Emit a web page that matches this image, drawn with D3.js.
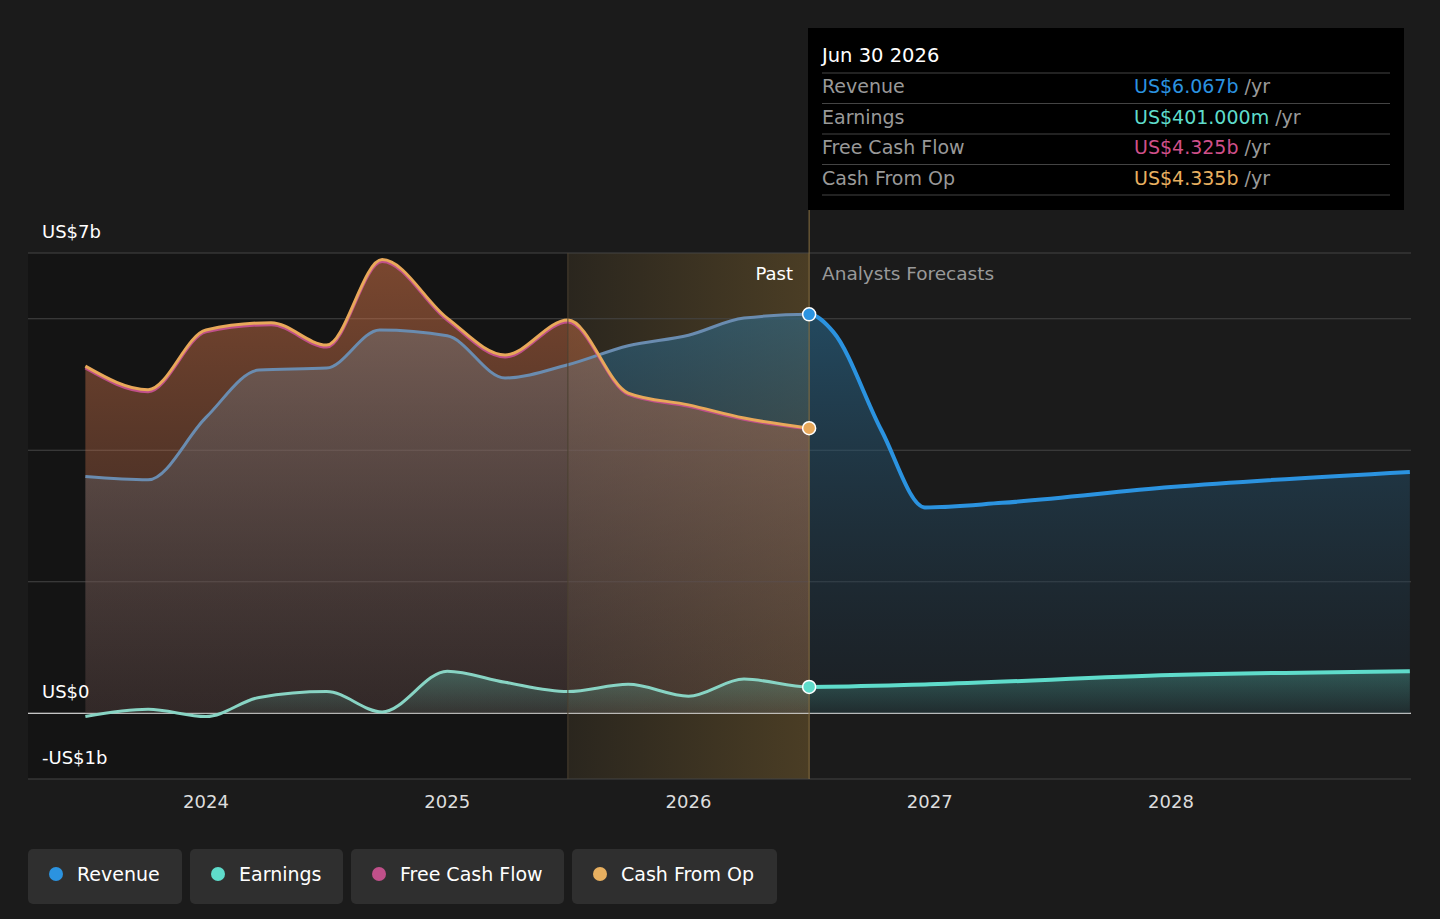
<!DOCTYPE html><html><head><meta charset="utf-8"><script src="https://cdn.jsdelivr.net/npm/d3@7"></script>
<style>body{margin:0;background:#1b1b1b;font-family:"DejaVu Sans",sans-serif}</style></head><body><svg id="c" width="1440" height="919"></svg>
<script>
const revT=[2023.5,2023.76,2024,2024.22,2024.5,2024.72,2025,2025.24,2025.5,2025.75,2026,2026.23,2026.5,2026.6,2026.8,2026.98,2027.3,2028,2028.99];
const revV=[3.6,3.55,4.5,5.22,5.25,5.83,5.74,5.1,5.3,5.59,5.75,6.01,6.067,5.8,4.3,3.13,3.2,3.44,3.67];
const cfoT=[2023.5,2023.76,2024,2024.27,2024.5,2024.73,2025,2025.24,2025.5,2025.75,2026,2026.23,2026.5];
const cfoV=[5.28,4.92,5.83,5.94,5.6,6.9,6.01,5.45,5.98,4.87,4.69,4.49,4.335];
const fcfV=[5.25,4.89,5.80,5.91,5.57,6.87,5.98,5.42,5.95,4.85,4.67,4.47,4.325];
const earnT=[2023.5,2023.76,2024,2024.22,2024.5,2024.73,2025,2025.24,2025.5,2025.75,2026,2026.23,2026.5,2027,2028,2028.99];
const earnV=[-0.05,0.06,-0.05,0.24,0.33,0.02,0.64,0.47,0.33,0.44,0.26,0.52,0.401,0.44,0.58,0.64];
const yTicks=[0,2,4,6,7];
const xTicks=[2024,2025,2026,2027,2028];
const svg=d3.select("#c");
const x=d3.scaleLinear().domain([2024,2028]).range([206,1171]);
const y=d3.scaleLinear().domain([-1,7]).range([779,253]);
const defs=svg.append("defs");
function grad(id,c1,o1,c2,o2,h){const g=defs.append("linearGradient").attr("id",id).attr("x1",0).attr("x2",h?1:0).attr("y1",0).attr("y2",h?0:1);
g.append("stop").attr("offset",0).attr("stop-color",c1).attr("stop-opacity",o1);g.append("stop").attr("offset",1).attr("stop-color",c2).attr("stop-opacity",o2);}
grad("gold","#d9a441",0.08,"#d9a441",0.25,true);
grad("rev","#2a6f97",0.55,"#1c2a38",0.3,false);
grad("cfo","#e07a4a",0.5,"#a0604a",0.2,false);
grad("earn","#5fd4c0",0.3,"#5fd4c0",0.05,false);
defs.append("clipPath").attr("id","past").append("rect").attr("x",0).attr("y",0).attr("width",x(2026.5)).attr("height",919);
defs.append("clipPath").attr("id","fut").append("rect").attr("x",x(2026.5)).attr("y",0).attr("width",1440).attr("height",919);
svg.append("rect").attr("x",28).attr("y",253).attr("width",x(2025.5)-28).attr("height",526).attr("fill","#111").attr("opacity",0.6);
svg.append("rect").attr("x",x(2025.5)).attr("y",253).attr("width",x(2026.5)-x(2025.5)).attr("height",526).attr("fill","url(#gold)");
yTicks.forEach(t=>svg.append("line").attr("x1",28).attr("x2",1411).attr("y1",y(t)).attr("y2",y(t)).attr("stroke",t==0?"#fff":"#444").attr("stroke-width",1));
svg.append("line").attr("x1",28).attr("x2",1411).attr("y1",779).attr("y2",779).attr("stroke","#444");
const cur=d3.curveMonotoneX;
const z=(T,V)=>T.map((t,i)=>[t,V[i]]);
const area=d3.area().x(d=>x(d[0])).y0(y(0)).y1(d=>y(d[1])).curve(cur);
const line=d3.line().x(d=>x(d[0])).y(d=>y(d[1])).curve(cur);
const rev=z(revT,revV),cfo=z(cfoT,cfoV),fcf=z(cfoT,fcfV),earn=z(earnT,earnV);
svg.append("path").attr("d",area(rev)).attr("fill","url(#rev)");
svg.append("path").attr("d",area(cfo)).attr("fill","url(#cfo)");
svg.append("path").attr("d",area(earn)).attr("fill","url(#earn)");
svg.append("path").attr("d",line(rev)).attr("clip-path","url(#past)").attr("fill","none").attr("stroke","#6a8cb0").attr("stroke-width",3);
svg.append("path").attr("d",line(rev)).attr("clip-path","url(#fut)").attr("fill","none").attr("stroke","#2b93e0").attr("stroke-width",4);
svg.append("path").attr("d",line(fcf)).attr("fill","none").attr("stroke","#c0508a").attr("stroke-width",3);
svg.append("path").attr("d",line(cfo)).attr("fill","none").attr("stroke","#e8a85a").attr("stroke-width",3);
svg.append("path").attr("d",line(earn)).attr("clip-path","url(#past)").attr("fill","none").attr("stroke","#88d4c4").attr("stroke-width",3);
svg.append("path").attr("d",line(earn)).attr("clip-path","url(#fut)").attr("fill","none").attr("stroke","#5fdccb").attr("stroke-width",4);
svg.append("line").attr("x1",x(2026.5)).attr("x2",x(2026.5)).attr("y1",210).attr("y2",779).attr("stroke","#8a7040");
svg.append("line").attr("x1",x(2025.5)).attr("x2",x(2025.5)).attr("y1",253).attr("y2",779).attr("stroke","#4a4030");
[[6.067,"#2b93e0"],[4.335,"#e8a85a"],[0.401,"#5fdccb"]].forEach(([v,c])=>svg.append("circle").attr("cx",x(2026.5)).attr("cy",y(v)).attr("r",6.5).attr("fill",c).attr("stroke","#fff").attr("stroke-width",1.5));
const T=(xx,yy,s,c,sz,a)=>svg.append("text").attr("x",xx).attr("y",yy).text(s).attr("fill",c).attr("font-size",sz||18).attr("text-anchor",a||"start");
T(42,238,"US$7b","#fff");T(42,698,"US$0","#fff");T(42,764,"-US$1b","#fff");
xTicks.forEach(t=>T(x(t),808,t,"#ddd",18,"middle"));
T(793,280,"Past","#fff",18,"end");T(822,280,"Analysts Forecasts","#999",18.5);
svg.append("rect").attr("x",808).attr("y",28).attr("width",596).attr("height",182).attr("fill","#000");
T(822,62,"Jun 30 2026","#fff",19.5);
const rows=[["Revenue","US$6.067b","#2b93e0"],["Earnings","US$401.000m","#5fdccb"],["Free Cash Flow","US$4.325b","#d0508a"],["Cash From Op","US$4.335b","#e8b060"]];
rows.forEach((r,i)=>{const yy=93+i*30.5;
svg.append("line").attr("x1",822).attr("x2",1390).attr("y1",yy-20).attr("y2",yy-20).attr("stroke","#444");
T(822,yy,r[0],"#999",19);const t=T(1134,yy,r[1],r[2],19);t.append("tspan").text(" /yr").attr("fill","#999");});
svg.append("line").attr("x1",822).attr("x2",1390).attr("y1",195).attr("y2",195).attr("stroke","#444");
const leg=[["Revenue","#2b93e0",28,154],["Earnings","#5fdccb",190,153],["Free Cash Flow","#c0508a",351,213],["Cash From Op","#e8b060",572,205]];
leg.forEach(([n,c,lx,w])=>{svg.append("rect").attr("x",lx).attr("y",849).attr("width",w).attr("height",55).attr("rx",5).attr("fill","#2f2f2f");
svg.append("circle").attr("cx",lx+28).attr("cy",874).attr("r",7).attr("fill",c);T(lx+49,881,n,"#fff",19);});
</script></body></html>
